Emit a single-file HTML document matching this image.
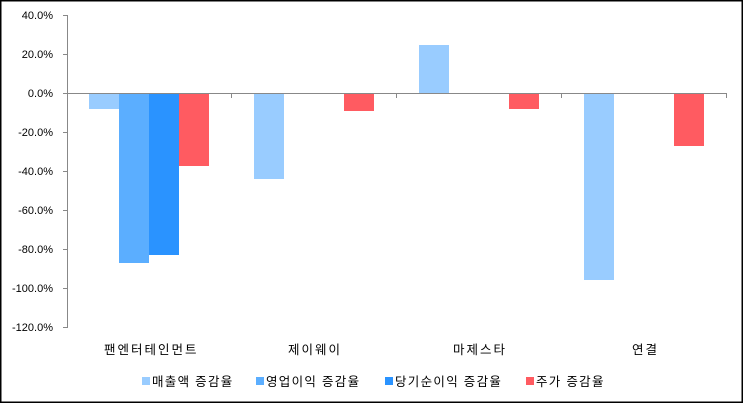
<!DOCTYPE html>
<html><head><meta charset="utf-8"><style>
html,body{margin:0;padding:0;background:#fff}
svg{display:block}
text{font-family:"Liberation Sans","Noto Sans CJK KR",sans-serif;fill:#000}
</style></head><body>
<svg width="743" height="403" viewBox="0 0 743 403" xmlns="http://www.w3.org/2000/svg">
<rect x="0.75" y="0.75" width="741.5" height="401.5" fill="#fff" stroke="#000" stroke-width="1.5"/>
<g font-size="11" text-anchor="end">
<text x="53" y="19">40.0%</text>
<text x="53" y="58">20.0%</text>
<text x="53" y="97">0.0%</text>
<text x="53" y="136">-20.0%</text>
<text x="53" y="175">-40.0%</text>
<text x="53" y="214">-60.0%</text>
<text x="53" y="253">-80.0%</text>
<text x="53" y="292">-100.0%</text>
<text x="53" y="331">-120.0%</text>
</g>
<g>
<rect x="89" y="93" width="30" height="16" fill="#99CCFF"/>
<rect x="119" y="93" width="30" height="170" fill="#5BAEFF"/>
<rect x="149" y="93" width="30" height="162" fill="#2A93FF"/>
<rect x="179" y="93" width="30" height="73" fill="#FF5B61"/>
<rect x="254" y="93" width="30" height="86" fill="#99CCFF"/>
<rect x="344" y="93" width="30" height="18" fill="#FF5B61"/>
<rect x="419" y="45" width="30" height="48" fill="#99CCFF"/>
<rect x="509" y="93" width="30" height="16" fill="#FF5B61"/>
<rect x="584" y="93" width="30" height="187" fill="#99CCFF"/>
<rect x="674" y="93" width="30" height="53" fill="#FF5B61"/>
</g>
<g stroke="#888" stroke-width="1" fill="none">
<line x1="67.5" y1="15" x2="67.5" y2="328"/>
<line x1="63" y1="15.5" x2="67" y2="15.5"/>
<line x1="63" y1="54.5" x2="67" y2="54.5"/>
<line x1="63" y1="93.5" x2="67" y2="93.5"/>
<line x1="63" y1="132.5" x2="67" y2="132.5"/>
<line x1="63" y1="171.5" x2="67" y2="171.5"/>
<line x1="63" y1="210.5" x2="67" y2="210.5"/>
<line x1="63" y1="249.5" x2="67" y2="249.5"/>
<line x1="63" y1="288.5" x2="67" y2="288.5"/>
<line x1="63" y1="327.5" x2="67" y2="327.5"/>
<line x1="67" y1="93.5" x2="727" y2="93.5"/>
<line x1="231.5" y1="93" x2="231.5" y2="98"/>
<line x1="396.5" y1="93" x2="396.5" y2="98"/>
<line x1="561.5" y1="93" x2="561.5" y2="98"/>
<line x1="726.5" y1="93" x2="726.5" y2="98"/>
</g>
<g font-size="12.5" letter-spacing="2">
<text x="104" y="354">팬엔터테인먼트</text>
<text x="288" y="354">제이웨이</text>
<text x="453" y="354">마제스타</text>
<text x="632" y="354">연결</text>
</g>
<g font-size="12.5" letter-spacing="1.3">
<rect x="142" y="377" width="8" height="8" fill="#99CCFF"/>
<text x="152" y="386">매출액 증감율</text>
<rect x="256" y="377" width="8" height="8" fill="#5BAEFF"/>
<text x="266" y="386">영업이익 증감율</text>
<rect x="385" y="377" width="8" height="8" fill="#2A93FF"/>
<text x="395" y="386">당기순이익 증감율</text>
<rect x="526" y="377" width="8" height="8" fill="#FF5B61"/>
<text x="536" y="386">주가 증감율</text>
</g>
</svg>
</body></html>
